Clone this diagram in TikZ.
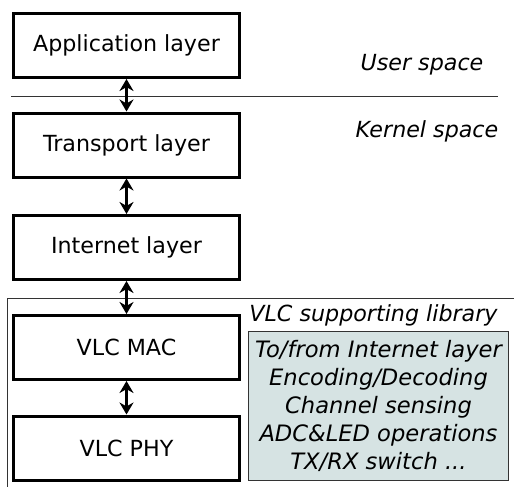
\documentclass[tikz,border=0pt]{standalone}
\usepackage{fontspec}
\setmainfont{DejaVu Sans}
\usetikzlibrary{arrows.meta,positioning}
\definecolor{cLib}{HTML}{D6E3E3}
\definecolor{cFrame}{HTML}{333333}

\begin{document}
\begin{tikzpicture}[x=.5pt,y=-.5pt,font=\fontsize{11.1}{13}\selectfont,
  layer/.style={draw,line width=1.5pt,minimum width=113pt,minimum height=32pt,inner sep=0pt},
  link/.style={line width=1.4pt,{Stealth[length=6pt,width=7pt]}-{Stealth[length=6pt,width=7pt]}},
  space/.style={font=\fontsize{11.1}{13}\selectfont\itshape},
  sep/.style={cFrame,line width=.5pt}]
\path[use as bounding box] (0,0) rectangle (514,487);
% layer stack
\node[layer] (app) at (126.5,45.5) {Application layer};
\node[layer] (trans) at (126.5,145) {Transport layer};
\node[layer] (inet) at (126.5,247.5) {Internet layer};
\node[layer] (mac) at (126.5,347.5) {VLC MAC};
\node[layer] (phy) at (126.5,448) {VLC PHY};
% user / kernel split
\coordinate (ukL) at (11,96);
\coordinate (ukR) at (498,96);
\draw[sep] (ukL) -- (ukR);
\node[space] (user) at (422,65) {User space};
\node[space] (kern) at (427,131) {Kernel space};
% library frame
\coordinate (libB) at (7,488);
\coordinate (libC) at (7,298.5);
\coordinate (libR) at (515,298.5);
\draw[sep] (libB) -- (libC) -- (libR);
\node[space,anchor=east,inner sep=0pt] (libname) at (498,315) {VLC supporting library};
\node[draw=cFrame,line width=.5pt,fill=cLib,minimum width=130pt,minimum height=74.5pt,
  inner sep=0pt,align=center,font=\fontsize{11.3}{14.1}\selectfont\itshape] (lib) at (378.5,406)
  {To/from Internet layer\\Encoding/Decoding\\Channel sensing\\ADC\&LED operations\\TX/RX switch ...};
% connectors
\draw[link] (app.south) -- (trans.north);
\draw[link] (trans.south) -- (inet.north);
\draw[link] (inet.south) -- (mac.north);
\draw[link] (mac.south) -- (phy.north);
\end{tikzpicture}
\end{document}
